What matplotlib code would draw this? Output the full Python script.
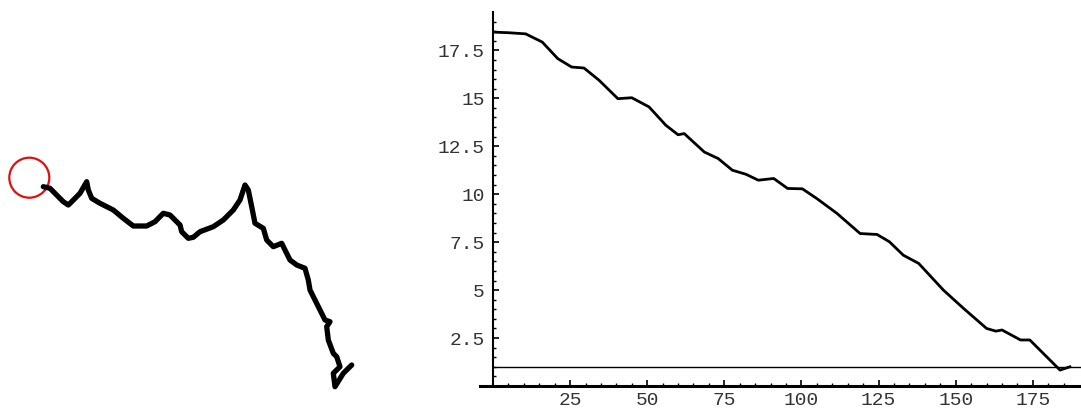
import matplotlib.pyplot as plt
from matplotlib.patches import Circle

# left panel: the walked path (image pixel coords, y down)
walk_x = [43.3, 50, 58.3, 63.3, 68.3, 71.7, 80, 86.7, 88.3, 91.7, 100, 113.3, 123.3,
          133.3, 146.7, 155, 163.3, 170, 175, 180, 181.7, 188.3, 193.3, 200, 213.3,
          223.3, 233.3, 240, 245, 248.3, 251.7, 255, 263.3, 266.7, 273.3, 281.7, 285,
          290, 296.7, 305, 308.3, 310, 315, 320, 325, 330, 326.7, 328.3, 333.3, 336.7,
          340, 333.3, 335, 343.3, 351.7]
walk_y = [186.7, 188.3, 196.7, 201.7, 205, 201.7, 193.3, 181.7, 190, 198.3, 203.3, 210,
          218.3, 226, 226, 221.7, 213.3, 215, 220, 225, 231.7, 238.3, 237.3, 231.7,
          226.7, 220, 210, 200, 185, 190, 206.7, 223.3, 228.3, 240, 246.7, 243.3, 250,
          260, 265, 268.3, 280, 290, 300, 310, 320, 321.7, 326.7, 340, 353.3, 356.7,
          366.7, 373.3, 386.7, 373.3, 365]
start_xy = (29.3, 177.7)
start_r = 20

# right panel: distance vs step
step = [0.3, 5, 10.6, 16, 21, 25.5, 29.5, 34.4, 40.5, 45, 50.6, 56, 60, 62, 68.5, 73,
        77.6, 82, 86, 91, 95.5, 100.3, 105, 111.5, 119, 124.5, 128.5, 133, 138, 146,
        152.5, 160, 163, 165, 171, 174, 183.8, 187]
dist = [18.45, 18.42, 18.36, 17.93, 17.07, 16.63, 16.58, 15.94, 14.98, 15.03, 14.55,
        13.6, 13.1, 13.16, 12.2, 11.86, 11.25, 11.04, 10.73, 10.82, 10.3, 10.28, 9.77,
        9.0, 7.95, 7.9, 7.52, 6.82, 6.39, 5.0, 4.05, 3.0, 2.86, 2.92, 2.4, 2.4, 0.83, 1.0]
threshold = 1.0
xticks = [25, 50, 75, 100, 125, 150, 175]
yticks = [2.5, 5, 7.5, 10, 12.5, 15, 17.5]
ylabels = ['2.5', '5', '7.5', '10', '12.5', '15', '17.5']

W, H = 1081, 412
fig = plt.figure(figsize=(W / 100, H / 100), dpi=100)

ax1 = fig.add_axes([0, 0, 400 / W, 1])
ax1.plot(walk_x, walk_y, color='black', lw=3.8, solid_joinstyle='round', solid_capstyle='round')
ax1.add_patch(Circle(start_xy, start_r, fill=False, ec='#e01010', lw=1.6))
ax1.set_xlim(0, 400)
ax1.set_ylim(H, 0)
ax1.axis('off')

# right axes, placed in pixels
left_px, right_px, top_px, bot_px = 480, 1081, 12, 386
ax2 = fig.add_axes([left_px / W, 1 - bot_px / H, (right_px - left_px) / W, (bot_px - top_px) / H])
ax2.plot(step, dist, color='black', lw=2.0)
ax2.axhline(threshold, xmin=(0 + 4.2) / (190.6 + 4.2), color='black', lw=1.0)
ax2.set_xlim(-4.2, 190.6)
ax2.set_ylim(0, 19.5)

for s in ['top', 'right']:
    ax2.spines[s].set_visible(False)
ax2.spines['left'].set_position(('data', 0))
ax2.spines['left'].set_linewidth(1.5)
ax2.spines['bottom'].set_linewidth(2.2)

ax2.set_xticks(xticks)
ax2.set_xticklabels([str(t) for t in xticks])
ax2.set_yticks(yticks)
ax2.set_yticklabels(ylabels)
ax2.set_xticks([t for t in range(5, 190, 5) if t % 25], minor=True)
ax2.set_yticks([t / 2 for t in range(1, 39) if t % 5], minor=True)
ax2.tick_params(which='major', direction='in', length=4, width=1.2,
                labelsize=14, labelcolor='#333333')
ax2.tick_params(axis='x', which='major', pad=4)
ax2.tick_params(axis='y', which='major', pad=6)
ax2.tick_params(which='minor', direction='in', length=2, width=1.0)
for lab in ax2.get_xticklabels() + ax2.get_yticklabels():
    lab.set_family('Liberation Mono')

fig.savefig('out.png', dpi=100)
